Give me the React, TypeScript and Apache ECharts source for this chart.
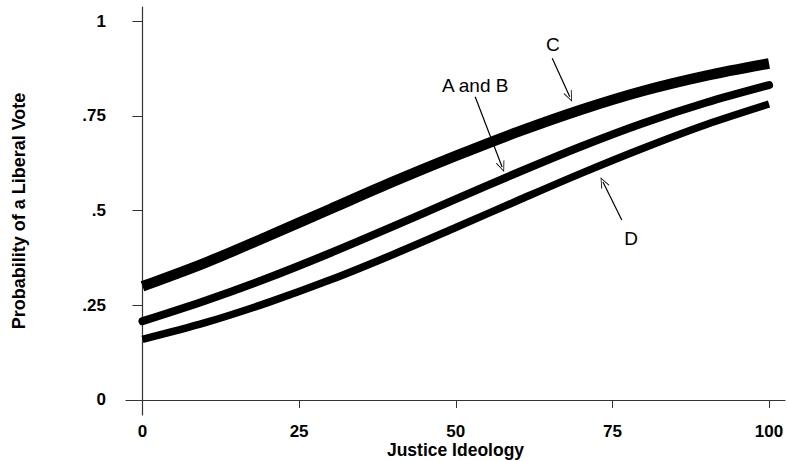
import React, { useEffect, useRef } from "react";
import * as echarts from "echarts";

const ideology = [0, 10, 20, 30, 40, 50, 60, 70, 80, 90, 100];
const seriesC = [0.3, 0.362, 0.432, 0.504, 0.576, 0.644, 0.708, 0.766, 0.816, 0.856, 0.888];
const seriesAB = [0.208, 0.262, 0.322, 0.388, 0.458, 0.53, 0.601, 0.669, 0.731, 0.785, 0.831];
const seriesD = [0.16, 0.204, 0.257, 0.317, 0.384, 0.455, 0.527, 0.598, 0.665, 0.727, 0.781];

const xTicks = [0, 25, 50, 75, 100];
const yTicks = [0, 0.25, 0.5, 0.75, 1];
const yTickLabels = ["0", ".25", ".5", ".75", "1"];

// annotation: [label, textX, textY, arrowFromX, arrowFromY, arrowToX, arrowToY]
const annC = ["C", 65.5, 0.937, 65.4, 0.902, 68.2, 0.8];
const annAB = ["A and B", 53.1, 0.831, 53.1, 0.8, 57.4, 0.615];
const annD = ["D", 78.0, 0.425, 76.5, 0.475, 73.5, 0.575];
const annotations = [annC, annAB, annD];

const FONT = "Liberation Sans, Arial, Helvetica, sans-serif";
const ARROW = "path://M50,0 L100,100 L90,100 L50,18 L10,100 L0,100 Z";

export default function App() {
  const ref = useRef<HTMLDivElement>(null);
  useEffect(() => {
    if (!ref.current) return;
    document.body.style.margin = "0";
    const chart = echarts.init(ref.current, undefined, { renderer: "svg" });
    const mk = (ys: number[]) => ideology.map((x, i) => [x, ys[i]]);
    const option: any = {
      animation: false,
      backgroundColor: "#ffffff",
      grid: { left: 126, right: 3, top: 7, bottom: 46, containLabel: false, outerBoundsMode: "none" },
      xAxis: {
        type: "value",
        min: -2.63,
        max: 102.55,
        splitLine: { show: false },
        axisLine: { show: true, lineStyle: { color: "#333", width: 1.2 } },
        axisTick: { show: true, length: 8, customValues: xTicks, lineStyle: { color: "#333", width: 1 } },
        axisLabel: {
          customValues: xTicks,
          margin: 8,
          color: "#000",
          fontFamily: FONT,
          fontWeight: "bold",
          fontSize: 17,
        },
        name: "Justice Ideology",
        nameLocation: "middle",
        nameGap: 26,
        nameMoveOverlap: false,
        nameTextStyle: { color: "#000", fontFamily: FONT, fontWeight: "bold", fontSize: 17.5 },
      },
      yAxis: {
        type: "value",
        min: -0.0396,
        max: 1.037,
        splitLine: { show: false },
        axisLine: { show: true, lineStyle: { color: "#333", width: 1.2 } },
        axisTick: { show: true, length: 10, customValues: yTicks, lineStyle: { color: "#333", width: 1 } },
        axisLabel: {
          customValues: yTicks,
          margin: 20,
          color: "#000",
          fontFamily: FONT,
          fontWeight: "bold",
          fontSize: 17,
          formatter: (v: number) => {
            const i = yTicks.findIndex((t) => Math.abs(t - v) < 1e-6);
            return i >= 0 ? yTickLabels[i] : "";
          },
        },
        name: "Probability of a Liberal Vote",
        nameLocation: "middle",
        nameGap: 98,
        nameMoveOverlap: false,
        nameTextStyle: { color: "#000", fontFamily: FONT, fontWeight: "bold", fontSize: 18 },
      },
      series: [
        {
          name: "C",
          type: "line",
          data: mk(seriesC),
          smooth: 0.3,
          showSymbol: false,
          lineStyle: { color: "#000", width: 10.5, cap: "butt" },
          z: 3,
        },
        {
          name: "A and B",
          type: "line",
          data: mk(seriesAB),
          smooth: 0.3,
          showSymbol: false,
          lineStyle: { color: "#000", width: 8, cap: "round" },
          z: 3,
        },
        {
          name: "D",
          type: "line",
          data: mk(seriesD),
          smooth: 0.3,
          showSymbol: false,
          lineStyle: { color: "#000", width: 7.5, cap: "butt" },
          z: 3,
        },
        {
          name: "annotations",
          type: "scatter",
          data: [],
          silent: true,
          z: 5,
          markLine: {
            silent: true,
            symbol: ["none", ARROW],
            symbolSize: [9, 11],
            label: { show: false },
            lineStyle: { color: "#000", width: 1.2, type: "solid" },
            data: annotations.map((a) => [
              { coord: [a[3], a[4]] },
              { coord: [a[5], a[6]] },
            ]),
          },
          markPoint: {
            silent: true,
            symbol: "circle",
            symbolSize: 0,
            label: {
              show: true,
              position: "inside",
              color: "#000",
              fontFamily: FONT,
              fontSize: 19,
              formatter: (p: any) => p.name,
            },
            data: annotations.map((a) => ({ name: a[0], coord: [a[1], a[2]] })),
          },
        },
      ],
    };
    chart.setOption(option);
    return () => chart.dispose();
  }, []);
  return <div ref={ref} style={{ width: 788, height: 461 }} />;
}
